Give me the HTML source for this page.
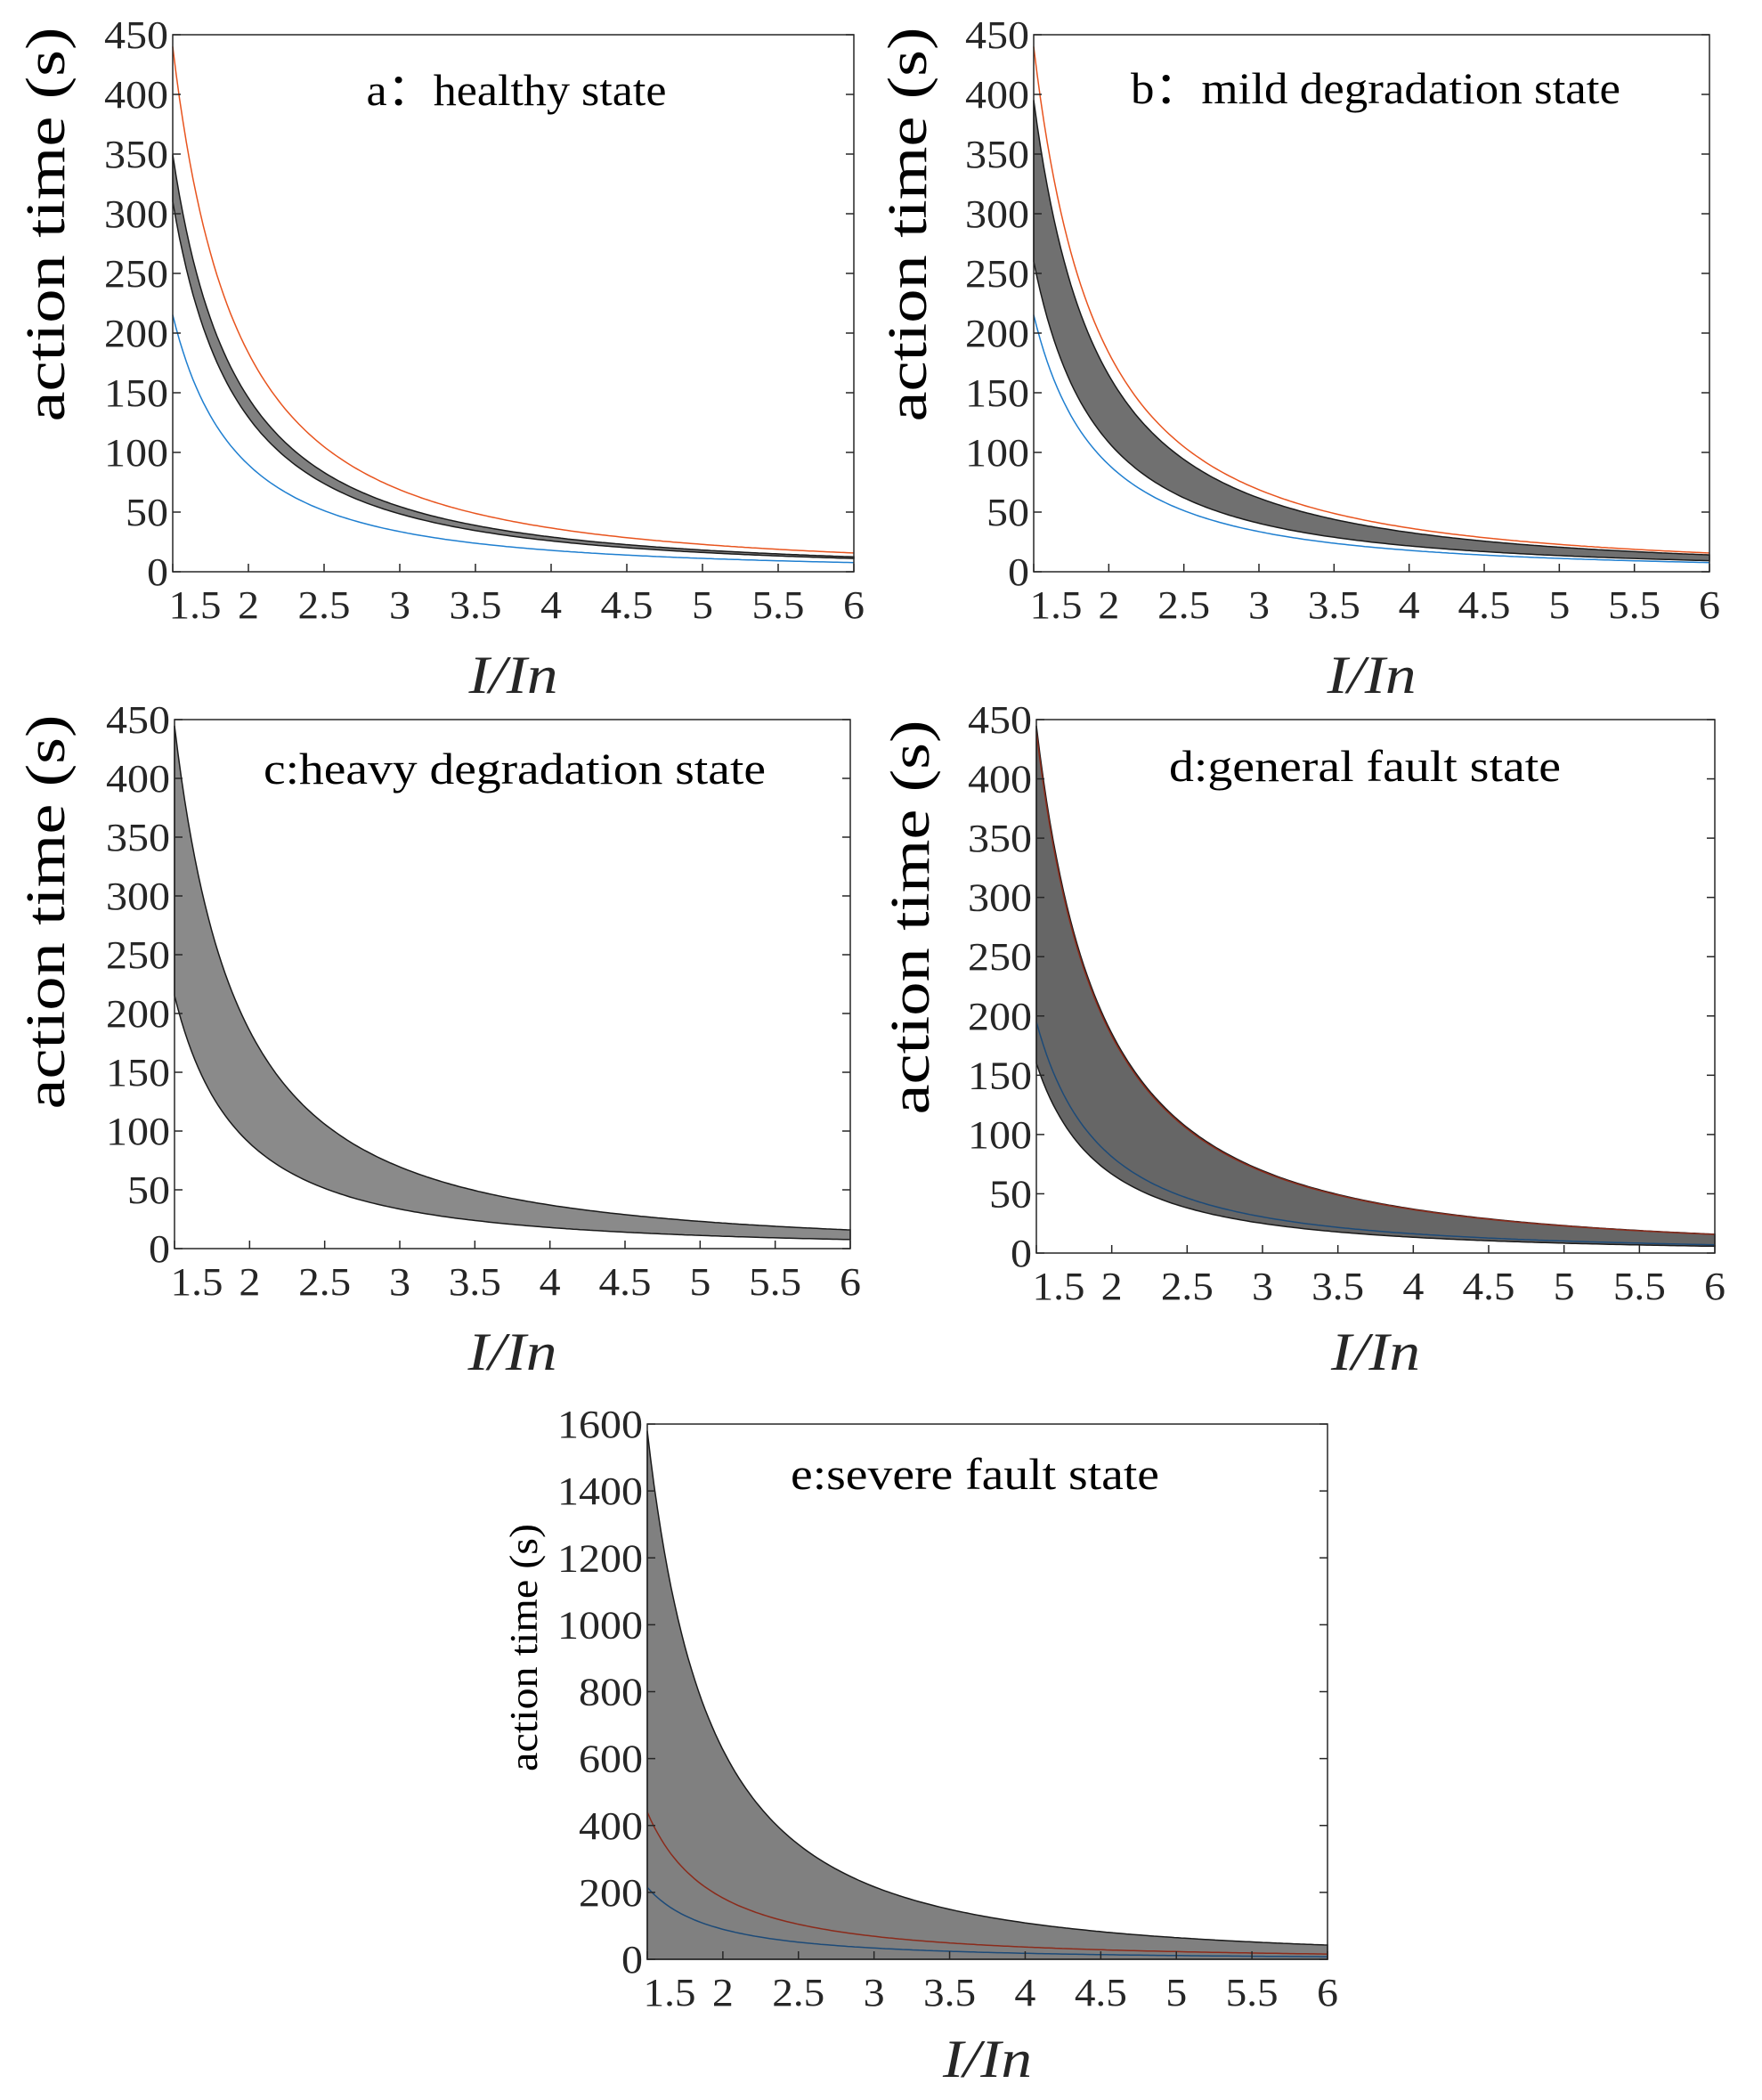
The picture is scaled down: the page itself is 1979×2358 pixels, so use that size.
<!DOCTYPE html>
<html><head><meta charset="utf-8"><style>
html,body{margin:0;padding:0;background:#fff}
svg text{font-family:"Liberation Serif",serif;fill:#262626}
</style></head><body>
<svg id="s" width="1979" height="2353" xmlns="http://www.w3.org/2000/svg"></svg>
<script>
const S=document.getElementById('s');let h='';
function f(k,x){return k/(x*x-1);}
function tl(s){let n=0;for(const c of String(s))n+=(c=='.')?11:24;return n;}
function panel(o){
 const {L,R,T,B,ymax,ystep,title,tx,ty,tw,ylx,yly,yfs,ylen,xly,band,fill,lines}=o;
 const X=x=>L+(x-1.5)/(4.5)*(R-L), Y=y=>B-y/ymax*(B-T);
 const xs=[];for(let i=0;i<=200;i++)xs.push(1.5+4.5*i/200);
 const pth=(k)=>xs.map((x,i)=>(i?'L':'M')+X(x).toFixed(1)+','+Y(f(k,x)).toFixed(1)).join('');
 h+=`<rect x="${L}" y="${T}" width="${R-L}" height="${B-T}" fill="#fff"/>`;
 if(band){
  const up=band[0],lo=band[1];
  let d=xs.map((x,i)=>(i?'L':'M')+X(x).toFixed(1)+','+Y(typeof up=='function'?up(x):f(up,x)).toFixed(1)).join('');
  for(let i=xs.length-1;i>=0;i--){const x=xs[i];d+='L'+X(x).toFixed(1)+','+Y(lo===0?0:f(lo,x)).toFixed(1);}
  h+=`<path d="${d}Z" fill="${fill}" stroke="#1a1a1a" stroke-width="1.5"/>`;
 }
 for(const [k,c] of lines) h+=`<path d="${pth(k)}" fill="none" stroke="${c}" stroke-width="1.5"/>`;
 h+=`<rect x="${L}" y="${T}" width="${R-L}" height="${B-T}" fill="none" stroke="#262626" stroke-width="1.5"/>`;
 for(let v=0;v<=ymax+1e-9;v+=ystep){const y=Y(v);
  h+=`<line x1="${L}" y1="${y}" x2="${L+9}" y2="${y}" stroke="#262626" stroke-width="1.5"/><line x1="${R}" y1="${y}" x2="${R-9}" y2="${y}" stroke="#262626" stroke-width="1.5"/>`;
  h+=`<text x="${L-5-tl(v)}" y="${y+15}" font-size="44" textLength="${tl(v)}" lengthAdjust="spacingAndGlyphs">${v}</text>`;}
 for(const v of [1.5,2,2.5,3,3.5,4,4.5,5,5.5,6]){const x=X(v);
  h+=`<line x1="${x}" y1="${B}" x2="${x}" y2="${B-9}" stroke="#262626" stroke-width="1.5"/>`;
  const cx=v==1.5?x+25:x, w=tl(v);
  h+=`<text x="${cx-w/2}" y="${B+52}" font-size="44" textLength="${w}" lengthAdjust="spacingAndGlyphs">${v}</text>`;}
 h+=`<text x="${tx-tw/2}" y="${ty}" font-size="50" textLength="${tw}" lengthAdjust="spacingAndGlyphs" style="fill:#000">${title}</text>`;
 h+=`<text transform="translate(${ylx},${yly+ylen/2}) rotate(-90)" font-size="${yfs}" textLength="${ylen}" lengthAdjust="spacingAndGlyphs" style="fill:#000">action time (s)</text>`;
 h+=`<text x="${(L+R)/2-50}" y="${xly}" font-size="60" font-style="italic" textLength="100" lengthAdjust="spacingAndGlyphs" style="fill:#262626">I/In</text>`;
}
panel({L:194,R:959,T:39,B:642,ymax:450,ystep:50,title:"a：healthy state",tx:580,ty:118,tw:337,ylx:72,yly:252,yfs:62,ylen:443,xly:778,
 band:[437,388],fill:"#808080",lines:[[550,"#e8541e"],[269,"#1f7fd0"]]});
panel({L:1161,R:1920,T:39,B:642,ymax:450,ystep:50,title:"b：mild degradation state",tx:1545,ty:116,tw:550,ylx:1040,yly:252,yfs:62,ylen:443,xly:778,
 band:[494,325],fill:"#707070",lines:[[550,"#e8541e"],[269,"#1f7fd0"]]});
panel({L:196,R:955,T:808,B:1402,ymax:450,ystep:50,title:"c:heavy degradation state",tx:578,ty:880,tw:564,ylx:72,yly:1024,yfs:62,ylen:443,xly:1538,
 band:[556,269],fill:"#8a8a8a",lines:[]});
panel({L:1164,R:1926,T:808,B:1407,ymax:450,ystep:50,title:"d:general fault state",tx:1533,ty:877,tw:440,ylx:1043,yly:1030,yfs:62,ylen:443,xly:1538,
 band:[556,200],fill:"#666666",lines:[[550,"#8b2a1a"],[244,"#1c4a78"]]});
panel({L:727,R:1491,T:1599,B:2200,ymax:1600,ystep:200,title:"e:severe fault state",tx:1095,ty:1672,tw:414,ylx:603,yly:1850,yfs:44,ylen:278,xly:2332,
 band:[x=>2354/(Math.pow(x,2.25)-1),0],fill:"#808080",lines:[[550,"#8b2a1a"],[269,"#1c4a78"]]});
S.innerHTML=h;
</script>
</body></html>
